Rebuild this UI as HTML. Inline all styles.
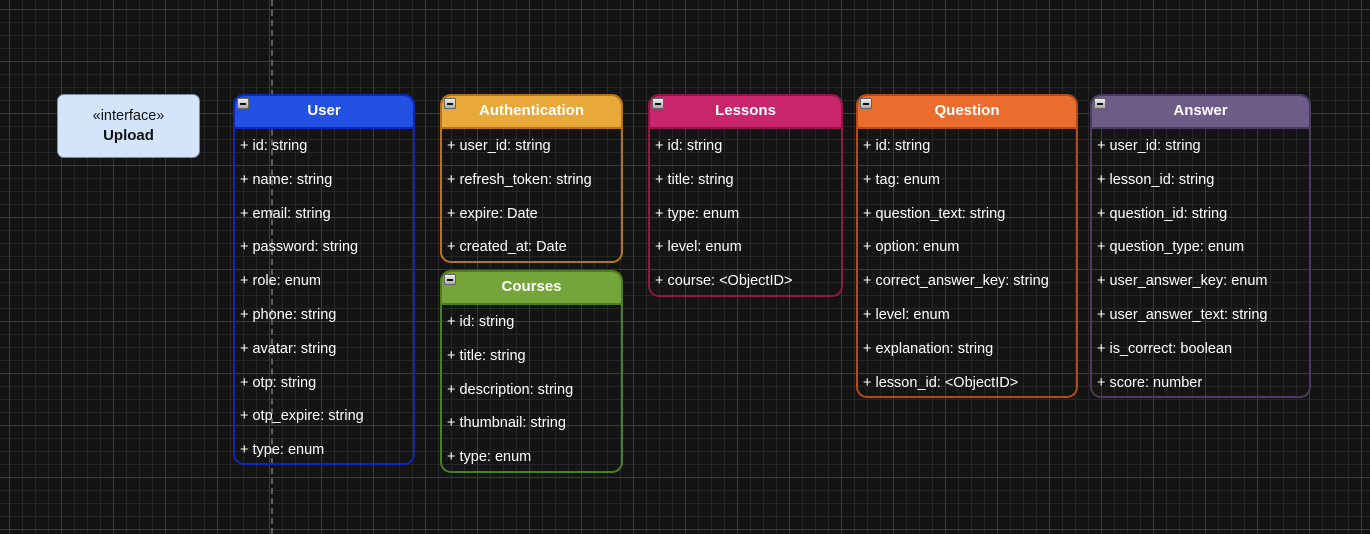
<!DOCTYPE html>
<html><head><meta charset="utf-8"><style>
html,body{margin:0;padding:0}
body{width:1370px;height:534px;overflow:hidden;position:relative;background-color:#141414;
background-image:
linear-gradient(to right,#3c3c3c 1px,transparent 1px),
linear-gradient(to bottom,#3c3c3c 1px,transparent 1px),
linear-gradient(to right,#262626 1px,transparent 1px),
linear-gradient(to bottom,#262626 1px,transparent 1px);
background-size:52px 52px,52px 52px,13px 13px,13px 13px;
background-position:9px 9px,9px 9px,9px 9px,9px 9px;
font-family:"Liberation Sans",Arial,sans-serif;}
.dash{position:absolute;left:271px;top:0;width:0;height:534px;border-left:2px dashed #5e5e5e}
.iface{position:absolute;left:57px;top:94px;width:143px;height:64px;background:#d4e5fb;border:1px solid #7a8aa0;border-radius:7px;text-align:center;color:#111;font-size:14.5px;box-sizing:border-box;padding-top:12px;line-height:19px}
.iface b{font-size:15px}
.box{position:absolute;border:2px solid;border-radius:11px;box-sizing:border-box;}
.hd{height:33px;border-radius:9px 9px 0 0;color:#fff;font-weight:bold;font-size:15px;text-align:center;line-height:30px;position:relative;border-bottom:2px solid;box-sizing:border-box}
.hd i{position:absolute;left:2px;top:2px;width:10px;height:9px;background:linear-gradient(#eee,#aaa);border:1px solid #666;font-style:normal}
.hd i:after{content:"";position:absolute;left:2px;top:4px;width:6px;height:2px;background:#111}
.row{height:33.8px;line-height:33.8px;color:#fff;font-size:14.5px;padding-left:5px;white-space:nowrap;position:relative;top:1px}
</style></head><body>
<div class="dash"></div>
<div class="iface">«interface»<br><b>Upload</b></div>

<div class="box" style="left:233px;top:94px;width:182px;height:371px;border-color:#0f27b8">
<div class="hd" style="background:#2150e2;border-color:#0f27b8"><i></i>User</div>
<div class="row">+ id: string</div><div class="row">+ name: string</div><div class="row">+ email: string</div><div class="row">+ password: string</div><div class="row">+ role: enum</div><div class="row">+ phone: string</div><div class="row">+ avatar: string</div><div class="row">+ otp: string</div><div class="row">+ otp_expire: string</div><div class="row">+ type: enum</div>
</div>

<div class="box" style="left:440px;top:94px;width:183px;height:169px;border-color:#b8741c">
<div class="hd" style="background:#e8a83a;border-color:#b8741c"><i></i>Authentication</div>
<div class="row">+ user_id: string</div><div class="row">+ refresh_token: string</div><div class="row">+ expire: Date</div><div class="row">+ created_at: Date</div>
</div>

<div class="box" style="left:440px;top:270px;width:183px;height:203px;border-color:#4f7d22">
<div class="hd" style="background:#74a43a;border-color:#4f7d22"><i></i>Courses</div>
<div class="row">+ id: string</div><div class="row">+ title: string</div><div class="row">+ description: string</div><div class="row">+ thumbnail: string</div><div class="row">+ type: enum</div>
</div>

<div class="box" style="left:648px;top:94px;width:195px;height:203px;border-color:#8e1846">
<div class="hd" style="background:#c8256d;border-color:#8e1846"><i></i>Lessons</div>
<div class="row">+ id: string</div><div class="row">+ title: string</div><div class="row">+ type: enum</div><div class="row">+ level: enum</div><div class="row">+ course: &lt;ObjectID&gt;</div>
</div>

<div class="box" style="left:856px;top:94px;width:222px;height:304px;border-color:#b24c1a">
<div class="hd" style="background:#eb6d2d;border-color:#b24c1a"><i></i>Question</div>
<div class="row">+ id: string</div><div class="row">+ tag: enum</div><div class="row">+ question_text: string</div><div class="row">+ option: enum</div><div class="row">+ correct_answer_key: string</div><div class="row">+ level: enum</div><div class="row">+ explanation: string</div><div class="row">+ lesson_id: &lt;ObjectID&gt;</div>
</div>

<div class="box" style="left:1090px;top:94px;width:221px;height:304px;border-color:#4a3c60">
<div class="hd" style="background:#6f5b88;border-color:#4a3c60"><i></i>Answer</div>
<div class="row">+ user_id: string</div><div class="row">+ lesson_id: string</div><div class="row">+ question_id: string</div><div class="row">+ question_type: enum</div><div class="row">+ user_answer_key: enum</div><div class="row">+ user_answer_text: string</div><div class="row">+ is_correct: boolean</div><div class="row">+ score: number</div>
</div>
</body></html>
